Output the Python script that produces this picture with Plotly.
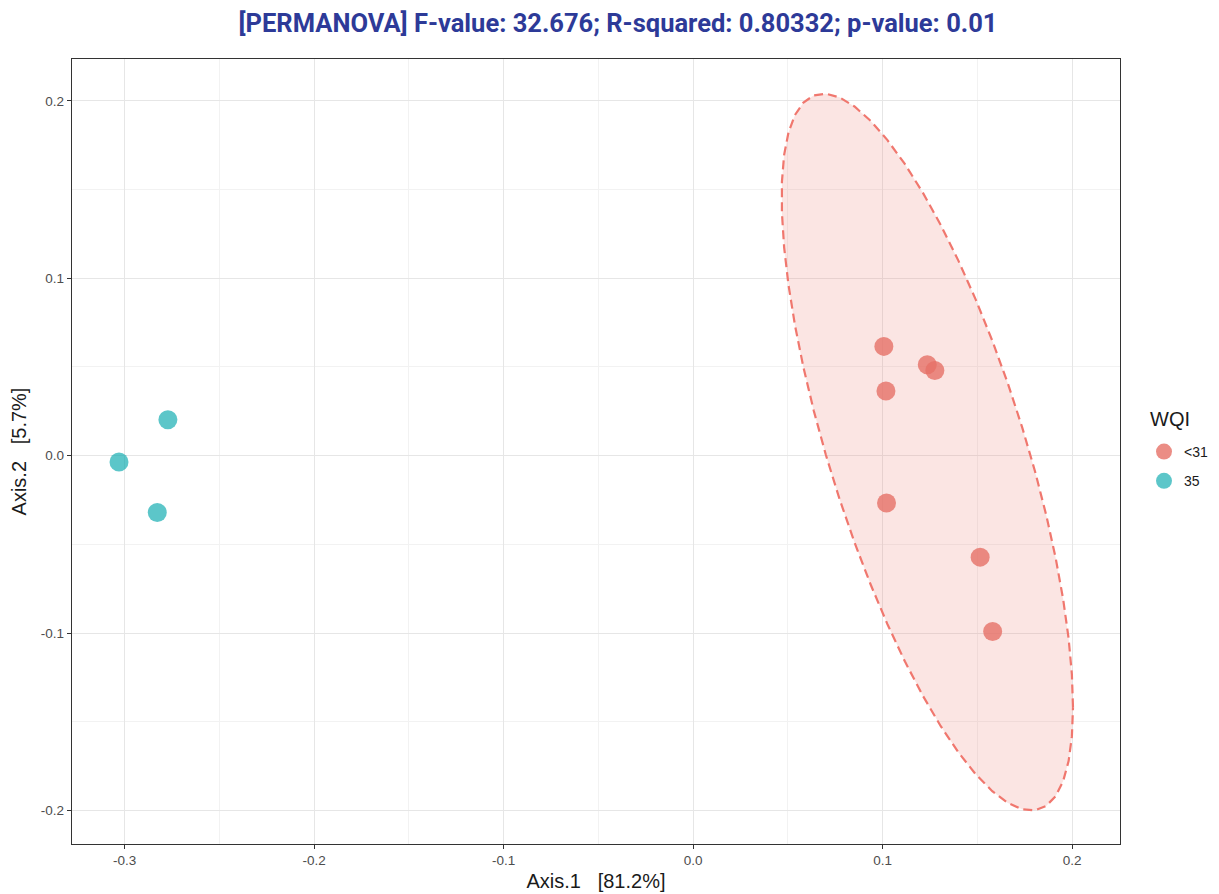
import numpy as np
import plotly.graph_objects as go

# ---- data ----
group_labels = ["<31", "35"]
x_lt31 = [0.1006, 0.1235, 0.1275, 0.1017, 0.1020, 0.1514, 0.1580]
y_lt31 = [0.0616, 0.0512, 0.0480, 0.0364, -0.0267, -0.0572, -0.0991]
x_35 = [-0.2772, -0.3030, -0.2828]
y_35 = [0.0202, -0.0036, -0.0320]

x_tickvals = [-0.3, -0.2, -0.1, 0.0, 0.1, 0.2]
x_ticktext = ["-0.3", "-0.2", "-0.1", "0.0", "0.1", "0.2"]
y_tickvals = [-0.2, -0.1, 0.0, 0.1, 0.2]
y_ticktext = ["-0.2", "-0.1", "0.0", "0.1", "0.2"]
x_minor = [-0.25, -0.15, -0.05, 0.05, 0.15]
y_minor = [-0.15, -0.05, 0.05, 0.15]

title_text = "[PERMANOVA] F-value: 32.676; R-squared: 0.80332; p-value: 0.01"
x_title = "Axis.1\u00a0\u00a0\u00a0[81.2%]"
y_title = "Axis.2\u00a0\u00a0\u00a0[5.7%]"
legend_title = "WQI"

# ---- 95% confidence ellipse (as ggplot2 stat_ellipse, F-based radius) ----
def conf_ellipse(xs, ys, level_f=5.143253, segments=51):
    pts = np.column_stack([xs, ys])
    center = pts.mean(axis=0)
    cov = np.cov(pts, rowvar=False)
    chol = np.linalg.cholesky(cov).T  # upper triangular, cov = R'R
    radius = np.sqrt(2 * level_f)
    ang = np.linspace(0, 2 * np.pi, segments + 1)
    circ = np.column_stack([np.cos(ang), np.sin(ang)])
    ell = center + radius * (circ @ chol)
    return ell[:, 0], ell[:, 1]

ex, ey = conf_ellipse(x_lt31, y_lt31)

RED = "#F0776E"
FONT = "Liberation Sans, Arial, sans-serif"

# page is drawn with an 8px body margin, so the figure is 8px smaller
W, H = 1211, 886

fig = go.Figure()
fig.add_trace(go.Scatter(
    x=ex, y=ey, mode="lines", fill="toself",
    fillcolor="rgba(236,125,115,0.2)",
    line=dict(color=RED, width=2.2, dash="9px,5px"),
    showlegend=False, hoverinfo="skip",
))
fig.add_trace(go.Scatter(
    x=x_lt31, y=y_lt31, mode="markers", name=group_labels[0], legendgroup="a",
    marker=dict(size=19, color="rgba(230,112,102,0.8)", line=dict(width=0)),
))
fig.add_trace(go.Scatter(
    x=x_35, y=y_35, mode="markers", name=group_labels[1], legendgroup="b",
    marker=dict(size=19, color="rgba(0,166,171,0.64)", line=dict(width=0)),
))

axis_common = dict(
    showline=True, mirror=True, linecolor="#333333", linewidth=1.4,
    ticks="outside", ticklen=4, tickcolor="#333333", tickwidth=1.1,
    showgrid=True, gridcolor="#E6E6E6", gridwidth=1.1,
    zeroline=False, automargin=False,
    tickfont=dict(family=FONT, size=13.5, color="#4D4D4D"),
)

fig.update_layout(
    width=W, height=H,
    margin=dict(l=64, r=99, t=51, b=50, autoexpand=False),
    paper_bgcolor="white", plot_bgcolor="white",
    title=dict(
        text="<b>" + title_text + "</b>",
        x=0.5037, xref="container", xanchor="center",
        y=1 - 15 / H, yref="container", yanchor="middle",
        font=dict(family="Roboto, Arial, sans-serif", size=25.5, color="#2D3A98"),
    ),
    xaxis=dict(
        range=[-0.3278, 0.2252],
        tickmode="array", tickvals=x_tickvals, ticktext=x_ticktext,
        minor=dict(tickvals=x_minor, showgrid=True, gridcolor="#F2F2F2", gridwidth=0.6, ticks=""),
        title=dict(text=x_title, standoff=6,
                   font=dict(family=FONT, size=20, color="#1A1A1A")),
        **axis_common,
    ),
    yaxis=dict(
        range=[-0.2189, 0.2236],
        tickmode="array", tickvals=y_tickvals, ticktext=y_ticktext,
        minor=dict(tickvals=y_minor, showgrid=True, gridcolor="#F2F2F2", gridwidth=0.6, ticks=""),
        title=dict(text=y_title, standoff=8,
                   font=dict(family=FONT, size=20, color="#1A1A1A")),
        **axis_common,
    ),
    legend=dict(
        font=dict(family=FONT, size=14, color="#1A1A1A"),
        xref="container", yref="container",
        x=1136 / W, xanchor="left", y=1 - 428 / H, yanchor="top",
        bgcolor="rgba(0,0,0,0)", tracegroupgap=8,
    ),
    showlegend=True,
    annotations=[dict(
        text=legend_title, xref="paper", yref="paper",
        x=(1140 - 64) / (W - 64 - 99), y=(H - 50 - 411) / (H - 51 - 50),
        xanchor="left", yanchor="middle", showarrow=False,
        font=dict(family=FONT, size=20, color="#1A1A1A"),
    )],
)

fig.write_html("out.html")
